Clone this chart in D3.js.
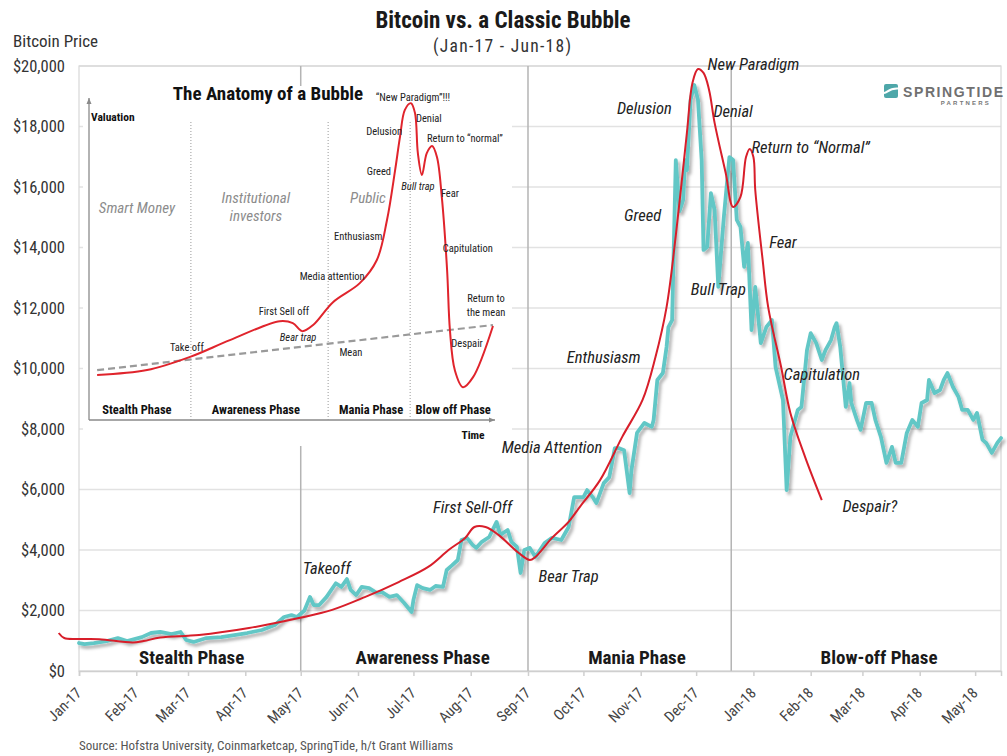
<!DOCTYPE html>
<html><head><meta charset="utf-8">
<script src="https://cdn.jsdelivr.net/npm/d3@7"></script>
<style>
html,body{margin:0;padding:0;background:#fff;}
svg{display:block;}
</style></head><body>
<svg id="chart" width="1007" height="756"></svg>
<script>
// ---- Bitcoin price (USD) ----
const priceDates = ["2017-01-01","2017-01-04","2017-01-09","2017-01-16","2017-01-22","2017-01-27","2017-02-04","2017-02-09","2017-02-14","2017-02-20","2017-02-25","2017-02-28","2017-03-04","2017-03-11","2017-03-19","2017-03-26","2017-04-02","2017-04-10","2017-04-17","2017-04-22","2017-04-26","2017-04-29","2017-05-03","2017-05-06","2017-05-08","2017-05-11","2017-05-15","2017-05-20","2017-05-23","2017-05-26","2017-05-28","2017-05-31","2017-06-03","2017-06-07","2017-06-11","2017-06-14","2017-06-18","2017-06-22","2017-06-26","2017-06-30","2017-07-01","2017-07-03","2017-07-06","2017-07-10","2017-07-13","2017-07-17","2017-07-19","2017-07-22","2017-07-25","2017-07-27","2017-07-30","2017-08-02","2017-08-04","2017-08-07","2017-08-11","2017-08-15","2017-08-17","2017-08-21","2017-08-23","2017-08-26","2017-08-28","2017-08-30","2017-09-02","2017-09-05","2017-09-10","2017-09-14","2017-09-19","2017-09-23","2017-09-26","2017-09-29","2017-10-01","2017-10-03","2017-10-06","2017-10-08","2017-10-10","2017-10-12","2017-10-15","2017-10-18","2017-10-20","2017-10-23","2017-10-26","2017-10-27","2017-10-30","2017-11-03","2017-11-07","2017-11-08","2017-11-10","2017-11-13","2017-11-15","2017-11-16","2017-11-18","2017-11-20","2017-11-22","2017-11-24","2017-11-25","2017-11-26","2017-11-28","2017-11-30","2017-12-02","2017-12-04","2017-12-05","2017-12-07","2017-12-09","2017-12-11","2017-12-13","2017-12-16","2017-12-19","2017-12-21","2017-12-23","2017-12-25","2017-12-27","2017-12-29","2017-12-31","2018-01-02","2018-01-05","2018-01-08","2018-01-11","2018-01-13","2018-01-17","2018-01-19","2018-01-21","2018-01-25","2018-01-27","2018-01-30","2018-02-01","2018-02-04","2018-02-07","2018-02-09","2018-02-12","2018-02-14","2018-02-15","2018-02-17","2018-02-20","2018-02-22","2018-02-23","2018-02-26","2018-02-28","2018-03-03","2018-03-06","2018-03-08","2018-03-11","2018-03-14","2018-03-17","2018-03-19","2018-03-22","2018-03-25","2018-03-28","2018-03-31","2018-04-02","2018-04-05","2018-04-06","2018-04-09","2018-04-12","2018-04-14","2018-04-16","2018-04-19","2018-04-22","2018-04-24","2018-04-27","2018-04-30","2018-05-02","2018-05-05","2018-05-07","2018-05-10","2018-05-13","2018-05-15"];
const priceValues = [925,890,925,990,1090,990,1120,1256,1290,1220,1290,1025,960,1090,1120,1190,1256,1355,1520,1785,1850,1785,2000,2450,2180,2180,2450,2900,2780,3040,2680,2510,2780,2740,2580,2610,2450,2510,2250,1950,2350,2840,2740,2680,2810,2780,3340,3500,3670,4330,4400,4170,4070,4270,4430,4930,4500,4660,4270,4100,3240,4000,4070,3770,4230,4400,4330,4760,5750,5750,5750,5980,5750,5550,5880,6210,6410,7370,7370,7300,5880,6640,7870,8200,8070,8300,9620,9850,10710,11370,11600,16890,15200,15570,16890,16560,18880,19370,18880,16890,13920,14020,15800,15240,12700,15010,16990,16890,14910,14680,13360,14150,11270,12700,10840,11370,11600,10050,8960,5980,7740,8630,8730,10610,11170,10840,10280,10610,10940,11370,11500,10710,8730,9520,8860,8300,7970,8860,8860,8300,7740,6880,7410,6880,6880,7870,8300,8070,8860,8960,9620,9190,9290,9620,9850,9390,9060,8630,8630,8300,8530,7640,7540,7210,7540,7700];

// ---- Classic bubble path laid over the price ----
const bubbleDates = ["2016-12-21","2016-12-24","2017-01-01","2017-01-12","2017-01-30","2017-02-05","2017-02-14","2017-03-07","2017-04-03","2017-04-30","2017-05-18","2017-06-05","2017-06-23","2017-07-09","2017-07-20","2017-07-29","2017-08-03","2017-08-09","2017-08-16","2017-08-27","2017-09-02","2017-09-05","2017-09-14","2017-09-23","2017-09-29","2017-10-10","2017-10-22","2017-11-02","2017-11-09","2017-11-15","2017-11-20","2017-11-26","2017-11-29","2017-12-02","2017-12-05","2017-12-08","2017-12-11","2017-12-17","2017-12-21","2017-12-25","2017-12-28","2017-12-30","2018-01-01","2018-01-02","2018-01-06","2018-01-09","2018-01-16","2018-01-21","2018-01-29","2018-02-07"];
const bubbleValues = [1256,1090,1058,1050,940,990,1110,1190,1420,1750,2020,2450,2940,3440,4000,4400,4760,4760,4500,3900,3670,3770,4400,4930,5420,6310,7740,8960,10380,12030,14400,17790,19440,19900,19770,19210,18120,16460,15340,15670,16990,17260,16990,15900,13590,12030,10050,8530,7070,5650];

// ---- axes ----
const monthTicks = ["Jan-17","Feb-17","Mar-17","Apr-17","May-17","Jun-17","Jul-17","Aug-17","Sep-17","Oct-17","Nov-17","Dec-17","Jan-18","Feb-18","Mar-18","Apr-18","May-18"];
const yTickValues = [0,2000,4000,6000,8000,10000,12000,14000,16000,18000,20000];

// ---- phases ----
const phaseBreaks = ["2017-05-01","2017-09-01","2017-12-20"];
const phaseNames = ["Stealth Phase","Awareness Phase","Mania Phase","Blow-off Phase"];
const phaseCenters = ["2017-03-03","2017-07-06","2017-10-30","2018-03-10"];

// ---- annotations on the price chart ----
const noteTexts = ["New Paradigm","Delusion","Denial","Return to \u201cNormal\u201d","Greed","Fear","Bull Trap","Enthusiasm","Capitulation","Media Attention","Despair?","Takeoff","First Sell-Off","Bear Trap"];
const noteDates = ["2018-01-01","2017-11-03","2017-12-21","2018-02-01","2017-11-02","2018-01-17","2017-12-13","2017-10-12","2018-02-07","2017-09-14","2018-03-05","2017-05-15","2017-08-02","2017-09-23"];
const noteValues = [20070,18610,18510,17320,15075,14180,12630,10380,9820,7405,5455,3405,5420,3140];

// ---- "Anatomy of a Bubble" schematic (time and valuation on 0-100 scales) ----
const anatomyTime = [2.0,14.3,24.9,34.7,47.0,50.2,52.5,55.2,60.1,66.7,70.9,73.4,75.4,76.6,77.8,79.3,80.3,81.0,82.0,83.2,84.5,85.7,86.9,88.2,88.9,90.1,92.1,94.6,99.5];
const anatomyValue = [14.0,15.5,19.6,24.8,30.7,30.1,27.6,29.5,36.6,42.5,49.7,62.1,77.6,87.9,96.3,98.4,95.3,82.9,76.1,82.9,85.1,81.7,69.2,46.6,27.9,15.5,10.2,13.3,29.2];
const meanTime = [2.0, 99.5];
const meanValue = [15.5, 29.5];
const anatomyDividers = [25.1, 58.9, 79.1];
const anatomyPhaseNames = ["Stealth Phase","Awareness Phase","Mania Phase","Blow off Phase"];
const anatomyPhaseCenters = [11.8, 41.1, 69.5, 89.7];
const anatomyNoteTexts = ["Take off","First Sell off","Bear trap","Media attention","Mean","Enthusiasm","Greed","Delusion","\u201cNew Paradigm\u201d!!!","Denial","Return to \u201cnormal\u201d","Bull trap","Fear","Capitulation","Return to","the mean","Despair"];
const anatomyNoteTime = [24.1,48.0,51.5,59.9,64.5,66.3,71.4,72.7,79.8,83.7,92.6,81.0,88.9,93.3,97.8,97.8,93.1];
const anatomyNoteValue = [22.7,33.9,25.8,44.7,21.1,57.1,77.3,89.8,100.3,93.8,87.6,72.7,70.5,53.4,37.9,33.5,23.9];
const anatomyNoteItalic = [false,false,true,false,false,false,false,false,false,false,false,true,false,false,false,false,false];
const crowdTexts = [["Smart Money"],["Institutional","investors"],["Public"]];
const crowdTime = [11.8, 41.1, 68.7];
const crowdValue = [65.8, 68.9, 68.9];

const NARROW = "'Liberation Sans Narrow','Arial Narrow','Roboto Condensed',sans-serif";
const parse = d3.utcParse("%Y-%m-%d");
const svg = d3.select("#chart");

const x = d3.scaleUtc().domain([parse("2017-01-01"), parse("2018-05-15")]).range([79, 1001]);
const y = d3.scaleLinear().domain([0, 20000]).range([671, 66]);

const defs = svg.append("defs");
const shadow = defs.append("filter").attr("id", "lineShadow")
  .attr("x", "-5%").attr("y", "-5%").attr("width", "115%").attr("height", "115%");
shadow.append("feDropShadow").attr("dx", 2.5).attr("dy", 3).attr("stdDeviation", 1.6)
  .attr("flood-color", "#000").attr("flood-opacity", 0.3);

// titles
svg.append("text").attr("x", 503).attr("y", 28).attr("text-anchor", "middle")
  .style("font-family", NARROW).style("font-weight", "bold").style("font-size", "23px").style("fill", "#1a1a1a")
  .text("Bitcoin vs. a Classic Bubble");
svg.append("text").attr("x", 502).attr("y", 52).attr("text-anchor", "middle")
  .attr("textLength", 138).attr("lengthAdjust", "spacing")
  .style("font-family", NARROW).style("font-size", "17.5px").style("fill", "#333")
  .text("(Jan-17 - Jun-18)");
svg.append("text").attr("x", 13).attr("y", 47)
  .style("font-family", NARROW).style("font-size", "17px").style("fill", "#333")
  .text("Bitcoin Price");

// grid
svg.append("g").selectAll("line").data(yTickValues.filter(v => v > 0)).join("line")
  .attr("x1", 79).attr("x2", 1001).attr("y1", d => y(d)).attr("y2", d => y(d))
  .attr("stroke", "#e2e2e2").attr("stroke-width", 1.5);
svg.append("rect").attr("x", 79).attr("y", 66).attr("width", 922).attr("height", 605)
  .attr("fill", "none").attr("stroke", "#d8d8d8").attr("stroke-width", 1.2);

// phase dividers
svg.append("g").selectAll("line").data(phaseBreaks).join("line")
  .attr("x1", d => x(parse(d))).attr("x2", d => x(parse(d)))
  .attr("y1", 66).attr("y2", 671).attr("stroke", "#b4b4b4").attr("stroke-width", 1.5);

// y axis
const yAxis = svg.append("g").attr("transform", "translate(79,0)")
  .call(d3.axisLeft(y).tickValues(yTickValues).tickFormat(d3.format("$,")).tickSize(0).tickPadding(14));
yAxis.select(".domain").remove();
yAxis.selectAll("text").style("font-family", NARROW).style("font-size", "16.5px").style("fill", "#333");

// x axis
const monthDates = monthTicks.map(m => d3.utcParse("%b-%y")(m));
const xAxis = svg.append("g").attr("transform", "translate(0,671)")
  .call(d3.axisBottom(x).tickValues(monthDates).tickSize(5).tickFormat((d, i) => monthTicks[i]));
xAxis.select(".domain").attr("stroke", "#cfcfcf").attr("stroke-width", 1.5);
xAxis.selectAll(".tick line").attr("stroke", "#cfcfcf").attr("stroke-width", 1.5);
xAxis.selectAll("text").attr("x", 0).attr("y", 0).attr("dy", 0)
  .attr("transform", "translate(3,23) rotate(-45)").style("text-anchor", "end")
  .style("font-family", NARROW).style("font-size", "15px").style("fill", "#444");

// phase names
svg.append("g").selectAll("text").data(phaseNames).join("text")
  .attr("x", (d, i) => x(parse(phaseCenters[i]))).attr("y", y(0) - 7)
  .attr("text-anchor", "middle")
  .style("font-family", NARROW).style("font-weight", "bold").style("font-size", "19px").style("fill", "#1a1a1a")
  .text(d => d);

// ---- inset: The Anatomy of a Bubble ----
const inset = svg.append("g");
inset.append("rect").attr("x", 83).attr("y", 86).attr("width", 429).attr("height", 360).attr("fill", "#fff");
const ix = d3.scaleLinear().domain([0, 100]).range([89, 495]);
const iy = d3.scaleLinear().domain([0, 100]).range([420, 98]);

inset.append("text").attr("x", 268).attr("y", 100).attr("text-anchor", "middle")
  .style("font-family", NARROW).style("font-weight", "bold").style("font-size", "19px").style("fill", "#111")
  .text("The Anatomy of a Bubble");

// axes with arrowheads
inset.append("line").attr("x1", ix(0)).attr("x2", ix(0)).attr("y1", iy(0)).attr("y2", iy(100))
  .attr("stroke", "#8a8a8a").attr("stroke-width", 1.3);
inset.append("line").attr("x1", ix(0)).attr("x2", ix(100)).attr("y1", iy(0)).attr("y2", iy(0))
  .attr("stroke", "#8a8a8a").attr("stroke-width", 1.3);
inset.append("path").attr("d", `M${ix(0) - 2.5},${iy(100) + 6}L${ix(0)},${iy(100)}L${ix(0) + 2.5},${iy(100) + 6}Z`).attr("fill", "#8a8a8a");
inset.append("path").attr("d", `M${ix(100) - 6},${iy(0) - 2.5}L${ix(100)},${iy(0)}L${ix(100) - 6},${iy(0) + 2.5}Z`).attr("fill", "#8a8a8a");

inset.append("text").attr("x", ix(0) + 2).attr("y", 121)
  .style("font-family", NARROW).style("font-weight", "bold").style("font-size", "11.5px").style("fill", "#111").text("Valuation");
inset.append("text").attr("x", 473).attr("y", 439).attr("text-anchor", "middle")
  .style("font-family", NARROW).style("font-weight", "bold").style("font-size", "11.5px").style("fill", "#111").text("Time");

inset.append("g").selectAll("line").data(anatomyDividers).join("line")
  .attr("x1", d => ix(d)).attr("x2", d => ix(d)).attr("y1", 122).attr("y2", iy(0))
  .attr("stroke", "#9a9a9a").attr("stroke-width", 1).attr("stroke-dasharray", "1,2");

inset.append("g").selectAll("text").data(crowdTexts).join("text")
  .attr("x", (d, i) => ix(crowdTime[i])).attr("y", (d, i) => iy(crowdValue[i]))
  .attr("text-anchor", "middle")
  .style("font-family", NARROW).style("font-style", "italic").style("font-size", "15px").style("fill", "#8c8c8c")
  .each(function (lines) {
    d3.select(this).selectAll("tspan").data(lines).join("tspan")
      .attr("x", d3.select(this).attr("x")).attr("dy", (d, j) => j === 0 ? "0.35em" : "1.2em").text(d => d);
  });

inset.append("path")
  .attr("d", d3.line().x((d, i) => ix(meanTime[i])).y((d, i) => iy(meanValue[i]))(meanTime))
  .attr("stroke", "#9a9a9a").attr("stroke-width", 2.2).attr("stroke-dasharray", "7,4").attr("fill", "none");

inset.append("path")
  .attr("d", d3.line().curve(d3.curveCatmullRom.alpha(0.5))
    .x((d, i) => ix(anatomyTime[i])).y((d, i) => iy(anatomyValue[i]))(anatomyTime))
  .attr("stroke", "#e0242c").attr("stroke-width", 2).attr("fill", "none");

inset.append("g").selectAll("text").data(anatomyNoteTexts).join("text")
  .attr("x", (d, i) => ix(anatomyNoteTime[i])).attr("y", (d, i) => iy(anatomyNoteValue[i]))
  .attr("dy", "0.35em").attr("text-anchor", "middle")
  .style("font-family", NARROW).style("font-size", "10.5px").style("fill", "#222")
  .style("font-style", (d, i) => anatomyNoteItalic[i] ? "italic" : "normal")
  .text(d => d);

inset.append("g").selectAll("text").data(anatomyPhaseNames).join("text")
  .attr("x", (d, i) => ix(anatomyPhaseCenters[i])).attr("y", 414)
  .attr("text-anchor", "middle")
  .style("font-family", NARROW).style("font-weight", "bold").style("font-size", "12.5px").style("fill", "#111")
  .text(d => d);

// ---- price and bubble lines ----
const price = priceDates.map((d, i) => ({ date: parse(d), value: priceValues[i] }));
const bubble = bubbleDates.map((d, i) => ({ date: parse(d), value: bubbleValues[i] }));

svg.append("path").datum(price)
  .attr("d", d3.line().x(d => x(d.date)).y(d => y(d.value)))
  .attr("fill", "none").attr("stroke", "#62c7c6").attr("stroke-width", 3.8)
  .attr("stroke-linejoin", "round").attr("stroke-linecap", "round")
  .attr("filter", "url(#lineShadow)");

svg.append("path").datum(bubble)
  .attr("d", d3.line().curve(d3.curveCatmullRom.alpha(0.5)).x(d => x(d.date)).y(d => y(d.value)))
  .attr("fill", "none").attr("stroke", "#d81e2a").attr("stroke-width", 2);

// annotations
svg.append("g").selectAll("text").data(noteTexts).join("text")
  .attr("x", (d, i) => x(parse(noteDates[i]))).attr("y", (d, i) => y(noteValues[i]))
  .attr("dy", "0.35em").attr("text-anchor", "middle")
  .style("font-family", NARROW).style("font-style", "italic").style("font-size", "16.5px").style("fill", "#222")
  .text(d => d);

// brand mark
const brand = svg.append("g");
brand.append("rect").attr("x", 884).attr("y", 84).attr("width", 14).attr("height", 14).attr("rx", 2).attr("fill", "#4ea7a9");
brand.append("path").attr("d", "M884,93 C888,93 888,88 898,88.5").attr("stroke", "#fff").attr("stroke-width", 2).attr("fill", "none");
brand.append("text").attr("x", 903).attr("y", 97)
  .style("font-family", "'Liberation Sans',Arial,sans-serif").style("font-size", "14px").style("font-weight", "bold")
  .style("letter-spacing", "1.6px").style("fill", "#707070").text("SPRINGTIDE");
brand.append("text").attr("x", 991).attr("y", 105).attr("text-anchor", "end")
  .style("font-family", "'Liberation Sans',Arial,sans-serif").style("font-size", "6px").style("font-weight", "bold")
  .style("letter-spacing", "2.2px").style("fill", "#777").text("PARTNERS");

// source
svg.append("text").attr("x", 79).attr("y", 750)
  .style("font-family", NARROW).style("font-size", "13px").style("fill", "#555")
  .text("Source: Hofstra University, Coinmarketcap, SpringTide, h/t Grant Williams");
</script>
</body></html>
